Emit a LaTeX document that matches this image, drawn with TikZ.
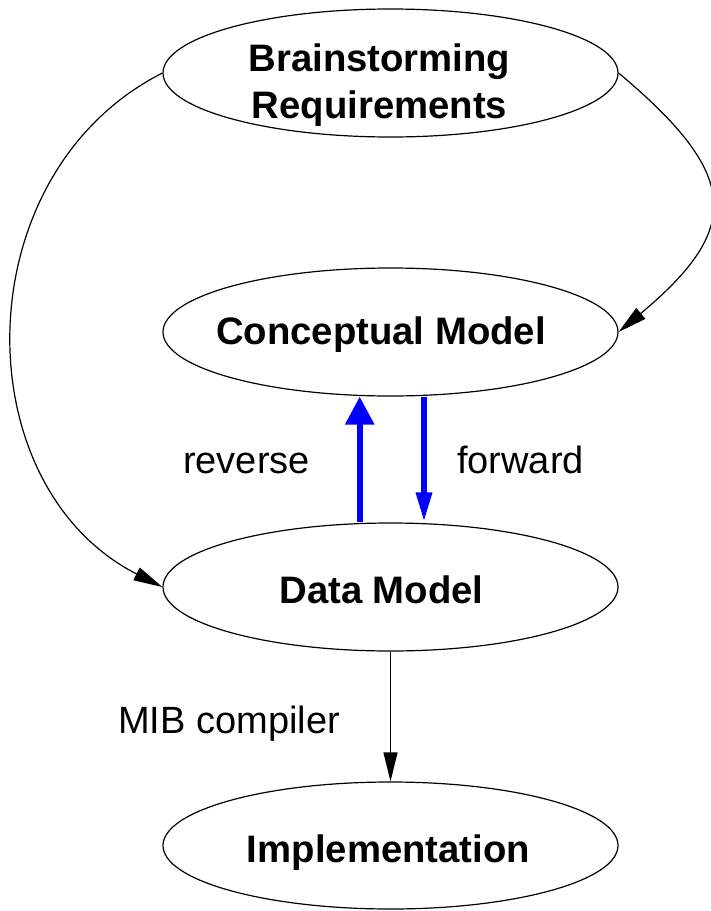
\documentclass[tikz,border=0pt]{standalone}
\usepackage{fontspec}
\setmainfont{Liberation Sans}
\usetikzlibrary{shapes.geometric,arrows.meta}
% set a text at an offset (#1 right, #2 down) from the node centre, without changing the node size
\newcommand\offsettext[3]{\raisebox{-#2}[0pt][0pt]{\hspace*{#1}\makebox[0pt]{#3}\hspace*{-#1}}}
% two centred lines with a fixed baseline distance
\newcommand\twolines[2]{\vbox{\baselineskip=47pt\halign{\hfil##\hfil\cr#1\cr#2\cr}}}
\begin{document}
\begin{tikzpicture}[x=1pt,y=-1pt,
  stage/.style={ellipse, draw, line width=1.2pt, minimum width=455pt,
    minimum height=128pt, inner sep=0pt,
    font=\fontsize{38.3}{46}\selectfont\bfseries},
  lbl/.style={inner sep=0pt, anchor=base west, font=\fontsize{38}{46}\selectfont},
  flow/.style={line width=1.2pt, -{Triangle[length=29pt,width=14pt]}},
  revarrow/.style={blue, line width=6pt, -{Triangle[length=28pt,width=28pt]}},
  fwdarrow/.style={blue, line width=6pt, -{Triangle[length=30pt,width=15pt]}}]
\useasboundingbox (0,0) rectangle (711,911);

% stages
\node (br) [stage] at (390.5,73)  {\offsettext{-11pt}{45pt}{\twolines{Brainstorming}{Requirements}}};
\node (cm) [stage] at (390.5,332) {\offsettext{-9.5pt}{12pt}{Conceptual Model}};
\node (dm) [stage] at (390.5,587) {\offsettext{-9pt}{16pt}{Data Model}};
\node (im) [stage, minimum height=127pt] at (390.5,845.5) {\offsettext{-2pt}{16.5pt}{Implementation}};

% requirements feed both models
\draw[flow] (br.west) .. controls +(-199,101) and +(-199,-101) .. (dm.west);
\draw[flow] (br.east) .. controls +(123,103) and +(123,-103) .. (cm.east);

% reverse and forward engineering
\draw[revarrow] ([xshift=-30.8pt]dm.north) -- ([xshift=-30.8pt]cm.south);
\draw[fwdarrow] ([xshift=33.5pt]cm.south) -- ([xshift=33.5pt]dm.north);
\node (rev) [lbl] at (183,473) {reverse};
\node (fwd) [lbl] at (457,473) {forward};

% code generation
\draw[flow] (dm) -- (im);
\node (mib) [lbl] at (118,733) {MIB compiler};
\end{tikzpicture}
\end{document}
